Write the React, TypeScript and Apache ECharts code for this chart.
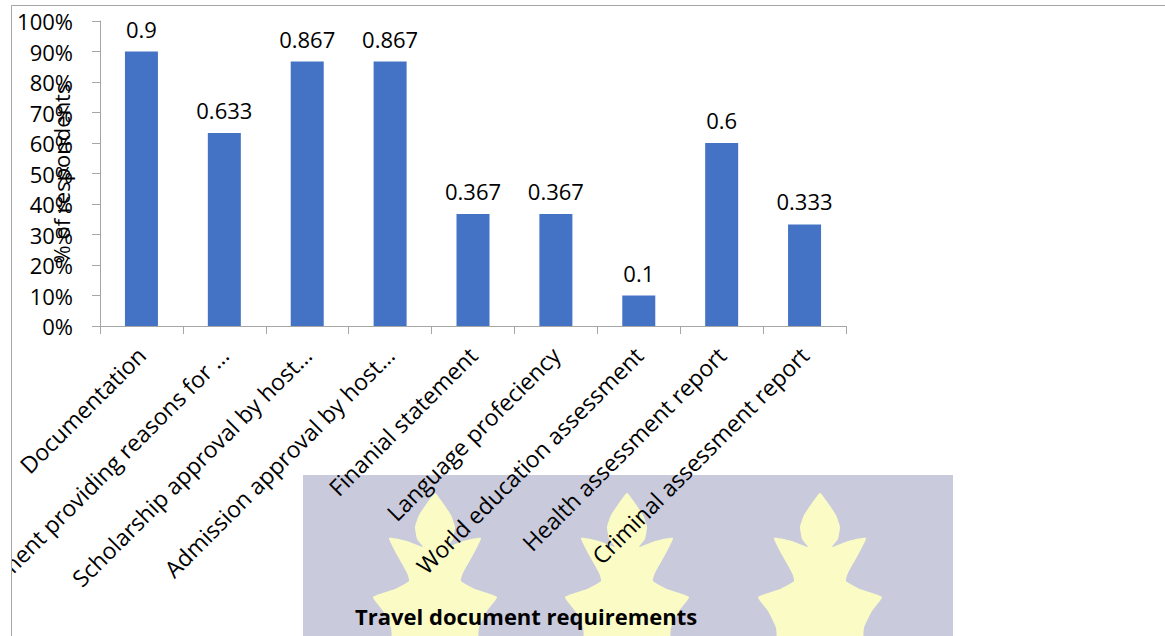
import React, { useEffect, useRef } from "react";
import * as echarts from "echarts";

const categories = [
  "Documentation",
  "Statement providing reasons for …",
  "Scholarship approval by host…",
  "Admission approval by host…",
  "Finanial statement",
  "Language profeciency",
  "World education assessment",
  "Health assessment report",
  "Criminal assessment report",
];
const values = [0.9, 0.633, 0.867, 0.867, 0.367, 0.367, 0.1, 0.6, 0.333];
const yAxisName = "% of respondents";
const titleText = "Travel document requirements";

const FONT = "'Open Sans', 'Noto Sans', sans-serif";

function leaf(cx: number, top: number): number[][] {
  const right = [
    [8, 10], [16, 22], [20, 34], [18, 46], [12, 54], [28, 48], [46, 45],
    [38, 62], [28, 80], [26, 88], [40, 96], [62, 104], [52, 118], [44, 135], [40, 170],
  ];
  const pts: number[][] = [[cx, top]];
  right.forEach(([dx, dy]) => pts.push([cx + dx, top + dy]));
  right.slice().reverse().forEach(([dx, dy]) => pts.push([cx - dx, top + dy]));
  return pts;
}

export default function App() {
  const ref = useRef<HTMLDivElement>(null);
  useEffect(() => {
    if (!ref.current) return;
    const chart = echarts.init(ref.current, undefined, { renderer: "svg" });
    const leafCenters = [424, 616, 809];
    chart.setOption({
      animation: false,
      textStyle: { fontFamily: FONT },
      graphic: [
        {
          type: "rect",
          z: -10,
          silent: true,
          shape: { x: 292, y: 470, width: 650, height: 200 },
          style: { fill: "#c9cadc" },
        },
        ...leafCenters.map((cx) => ({
          type: "polygon",
          z: -9,
          silent: true,
          shape: { points: leaf(cx, 488), smooth: 0.15 },
          style: { fill: "#fbfbc6" },
        })),
        {
          type: "rect",
          z: 100,
          silent: true,
          shape: { x: 0.5, y: 0.5, width: 3000, height: 3000 },
          style: { fill: "none", stroke: "#a6a6a6", lineWidth: 1 },
        },
      ],
      title: {
        text: titleText,
        left: 344,
        top: 600,
        padding: 0,
        textStyle: { fontFamily: FONT, fontSize: 22, fontWeight: "bold", color: "#000" },
      },
      grid: { left: 89, right: 319, top: 16, bottom: 310, containLabel: false, outerBoundsMode: "none" },
      xAxis: {
        type: "category",
        data: categories,
        axisLine: { show: true, lineStyle: { color: "#a6a6a6", width: 1 } },
        axisTick: { show: true, length: 8, lineStyle: { color: "#a6a6a6" } },
        axisLabel: {
          interval: 0,
          rotate: 45,
          fontSize: 23,
          color: "#000",
          margin: 25,
          fontFamily: FONT,
        },
      },
      yAxis: {
        type: "value",
        min: 0,
        max: 1,
        interval: 0.1,
        splitLine: { show: false },
        axisLine: { show: true, lineStyle: { color: "#a6a6a6", width: 1 } },
        axisTick: { show: true, length: 8, lineStyle: { color: "#a6a6a6" } },
        axisLabel: {
          formatter: (v: number) => Math.round(v * 100) + "%",
          fontSize: 22,
          color: "#000",
          margin: 27,
          fontFamily: FONT,
        },
        name: yAxisName,
        nameLocation: "middle",
        nameRotate: 90,
        nameGap: 28,
        nameMoveOverlap: false,
        nameTextStyle: { fontSize: 22, color: "#000", fontFamily: FONT },
      },
      series: [
        {
          type: "bar",
          data: values,
          barWidth: 33,
          itemStyle: { color: "#4472C4" },
          label: {
            show: true,
            position: "top",
            distance: 12,
            fontSize: 22,
            color: "#000",
            fontFamily: FONT,
            formatter: (p: any) => String(p.value),
          },
        },
      ],
    });
    return () => chart.dispose();
  }, []);
  return (
    <div
      ref={ref}
      style={{ position: "fixed", left: 11, top: 5, width: 1154, height: 631, background: "#fff" }}
    />
  );
}
